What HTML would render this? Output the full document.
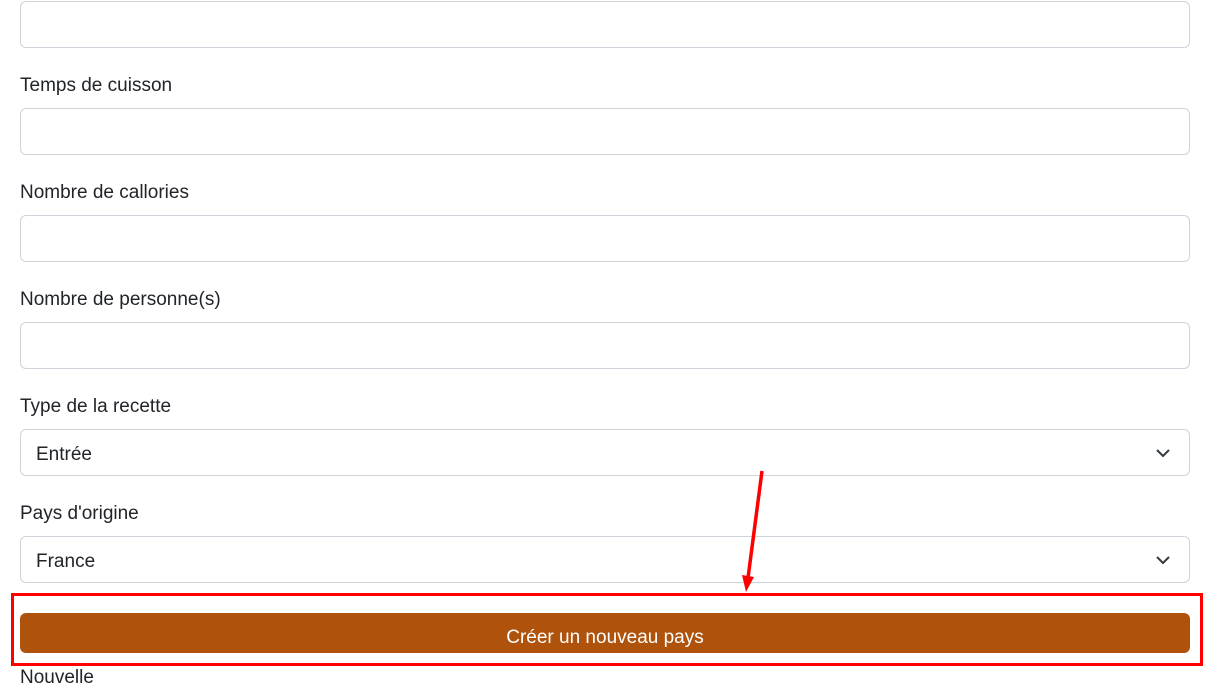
<!DOCTYPE html>
<html><head><meta charset="utf-8"><style>
html,body{margin:0;padding:0;background:#fff;width:1209px;height:672px;overflow:hidden;font-family:"Liberation Sans",sans-serif;color:#212529;}
.inp{position:absolute;left:20px;width:1168px;height:45px;border:1px solid #ced4da;border-radius:6px;background:#fff;}
.lbl{position:absolute;left:20px;font-size:19px;line-height:22px;}
.sel{font-size:19px;line-height:49px;padding-left:15px;box-sizing:border-box;width:1170px;height:47px;}
.chev{position:absolute;right:18px;top:15px;}
</style></head><body>
<div class="inp" style="top:1px"></div>
<div class="lbl" style="top:75px">Temps de cuisson</div>
<div class="inp" style="top:108px"></div>
<div class="lbl" style="top:182px">Nombre de callories</div>
<div class="inp" style="top:215px"></div>
<div class="lbl" style="top:289px">Nombre de personne(s)</div>
<div class="inp" style="top:322px"></div>
<div class="lbl" style="top:396px">Type de la recette</div>
<div class="inp sel" style="top:429px">Entrée<svg class="chev" width="16" height="16" viewBox="0 0 16 16"><path d="M2 5l6 6 6-6" fill="none" stroke="#343a40" stroke-width="2"/></svg></div>
<div class="lbl" style="top:503px">Pays d'origine</div>
<div class="inp sel" style="top:536px">France<svg class="chev" width="16" height="16" viewBox="0 0 16 16"><path d="M2 5l6 6 6-6" fill="none" stroke="#343a40" stroke-width="2"/></svg></div>
<div style="position:absolute;left:20px;top:613px;width:1170px;height:40px;background:#af520b;border-radius:6px;color:#fff;font-size:19px;line-height:50px;text-align:center;">Créer un nouveau pays</div>
<div class="lbl" style="top:667px;font-size:19px">Nouvelle</div>
<div style="position:absolute;left:11px;top:593px;width:1186px;height:67px;border:3px solid #ff0000;"></div>
<svg style="position:absolute;left:0;top:0" width="1209" height="672">
<line x1="762" y1="471" x2="748" y2="578" stroke="#ff0000" stroke-width="3.5"/>
<polygon points="742,575 754,577 746,592" fill="#ff0000"/>
</svg>
</body></html>
